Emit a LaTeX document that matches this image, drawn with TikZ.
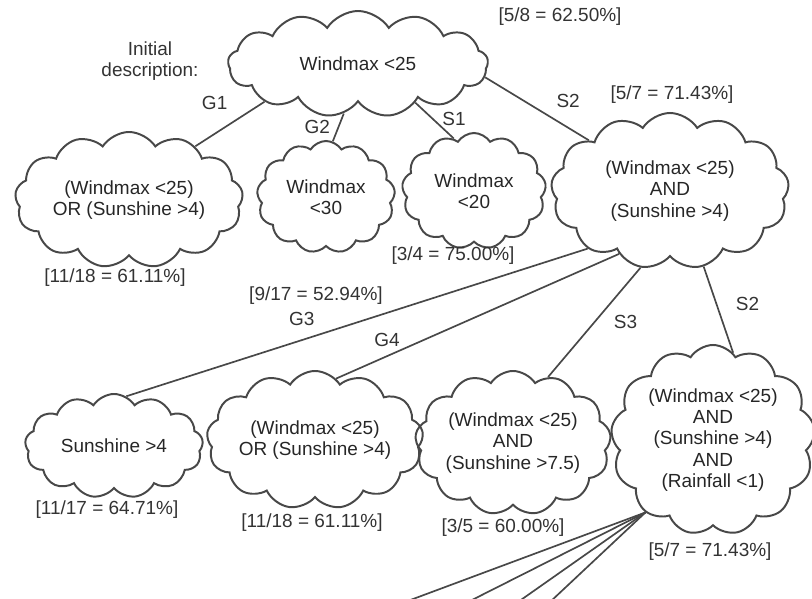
\documentclass[tikz,border=0pt]{standalone}
\usepackage{fontspec}
\setmainfont{Liberation Sans}
\usetikzlibrary{shapes.symbols, positioning}
\definecolor{inkColor}{RGB}{72, 72, 72}
\tikzstyle{desc} = [cloud, cloud puffs=13, cloud puff arc=115, cloud ignores aspect, draw=inkColor, line width=1.4pt, align=center, inner sep=0pt, text=black!85, font=\fontsize{13.5}{15}\selectfont]
\tikzstyle{score} = [text=black!80, font=\fontsize{13.5}{15}\selectfont]
\tikzstyle{link} = [draw=inkColor, line width=1.2pt]

\begin{document}
\begin{tikzpicture}[x=0.025cm, y=-0.025cm]
			\useasboundingbox (0,0) rectangle (812,599);

			% first row
			\node (intro) [score, align=center] at (150,61) {Initial\\description:};
			\node (top) [desc, minimum width=6.5cm, minimum height=2.65cm] at (358,64) {Windmax <25};
			\node (or1) [desc, minimum width=5.7cm, minimum height=3.4cm] at (129,200) {(Windmax <25)\\OR (Sunshine >4)};
			\node (lt30) [desc, minimum width=3.45cm, minimum height=2.8cm] at (326,197) {Windmax\\<30};
			\node (lt20) [desc, minimum width=3.6cm, minimum height=2.9cm] at (474,191) {Windmax\\<20};
			\node (and1) [desc, minimum width=5.95cm, minimum height=3.9cm] at (670,191) {(Windmax <25)\\AND\\(Sunshine >4)};

			% second row
			\node (sun) [desc, minimum width=4.45cm, minimum height=2.6cm] at (114,446) {Sunshine >4};
			\node (or2) [desc, minimum width=5.3cm, minimum height=3.45cm] at (315,440) {(Windmax <25)\\OR (Sunshine >4)};
			\node (and2) [desc, minimum width=4.55cm, minimum height=3.6cm] at (513,443) {(Windmax <25)\\AND\\(Sunshine >7.5)};
			\node (and3) [desc, minimum width=5.1cm, minimum height=4.75cm] at (713,440) {(Windmax <25)\\AND\\(Sunshine >4)\\AND\\(Rainfall <1)};

			% scores
			\node (s-top) [score] at (560,17) {[5/8 = 62.50\%]};
			\node (s-and1) [score] at (672,95) {[5/7 = 71.43\%]};
			\node (s-or1) [score] at (115,278) {[11/18 = 61.11\%]};
			\node (s-lt30) [score] at (316,296) {[9/17 = 52.94\%]};
			\node (s-lt20) [score] at (453,256) {[3/4 = 75.00\%]};
			\node (s-sun) [score] at (107,510) {[11/17 = 64.71\%]};
			\node (s-or2) [score] at (312,523) {[11/18 = 61.11\%]};
			\node (s-and2) [score] at (503,528) {[3/5 = 60.00\%]};
			\node (s-and3) [score] at (710,552) {[5/7 = 71.43\%]};

			\coordinate (f1) at (405,602);
			\coordinate (f2) at (468,602);
			\coordinate (f3) at (518,602);
			\coordinate (f4) at (550,602);

			\draw[link] (top.-158) -- node[score, pos=0.4, above left=4pt] {G1} (or1.39);
			\draw[link] (top.-106) -- node[score, left=2pt] {G2} (lt30.83);
			\draw[link] (top.-34) -- node[score, pos=0.45, right=3pt] {S1} (lt20.111);
			\draw[link] (top.-6) -- node[score, pos=0.8, above=10pt] {S2} (and1.148);
			\draw[link] (and1.215) -- node[score, pos=0.62, above=6pt] {G3} (sun.76);
			\draw[link] (and1.-129) -- node[score, pos=0.82, above=3pt] {G4} (or2.71);
			\draw[link] (and1.-111) -- node[score, pos=0.5, right=10pt] {S3} (and2.62);
			\draw[link] (and1.-66) -- node[score, pos=0.43, right=10pt] {S2} (and3.77);
			\foreach \f in {f1,f2,f3,f4}
				\draw[link] (and3.-133) -- (\f);
\end{tikzpicture}
\end{document}
